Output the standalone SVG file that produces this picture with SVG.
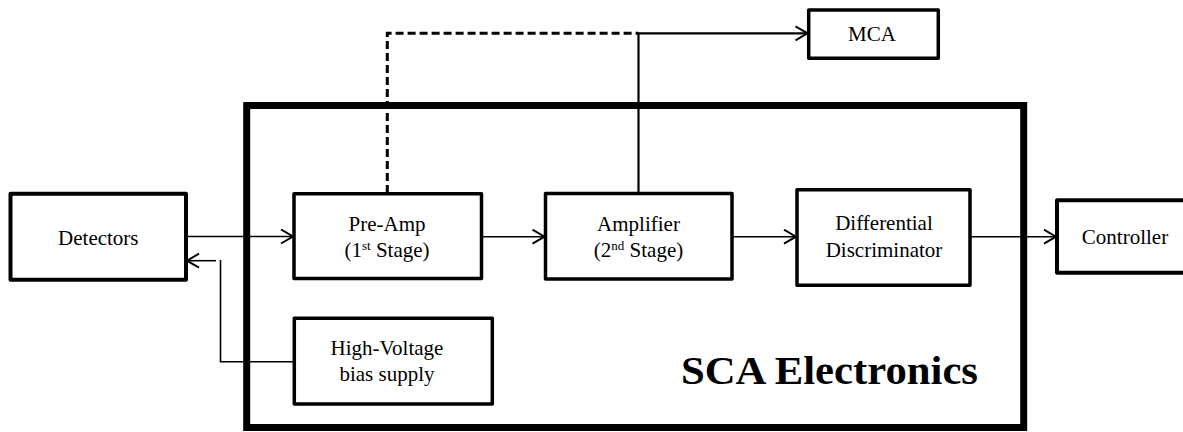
<svg xmlns="http://www.w3.org/2000/svg" width="1183" height="432" viewBox="0 0 1183 432">
<style>
  .box { fill: #fff; stroke: #000; stroke-width: 3.5; stroke-linejoin: round; }
  text { font-family: 'Liberation Serif', 'DejaVu Serif', serif; }
  .lbl { font-size: 21px; font-weight: normal; fill: #000; text-anchor: middle; }
  .sup { font-size: 13px; }
  .wire { fill: none; stroke: #000; stroke-width: 1.6; }
  .title { font-weight: bold; font-size: 40px; fill: #000; }
</style>
<defs>
  <marker id="arr" markerUnits="userSpaceOnUse" markerWidth="16" markerHeight="18" refX="13" refY="8" orient="auto">
    <path d="M1,1 L13,8 L1,15" fill="none" stroke="#000" stroke-width="2"/>
  </marker>
</defs>

<g id="sca-frame">
  <rect x="246.7" y="105.5" width="777" height="322" fill="none" stroke="#000" stroke-width="7"/>
  <text class="title" x="681" y="384" textLength="297" lengthAdjust="spacingAndGlyphs">SCA Electronics</text>
</g>

<g id="connectors">
  <line class="wire" x1="186" y1="236.5" x2="293" y2="236.5" marker-end="url(#arr)"/>
  <line class="wire" x1="483" y1="236.7" x2="544.5" y2="236.7" marker-end="url(#arr)"/>
  <line class="wire" x1="732" y1="236.7" x2="796" y2="236.7" marker-end="url(#arr)"/>
  <line class="wire" x1="970" y1="236.7" x2="1056" y2="236.7" marker-end="url(#arr)"/>
  <polyline class="wire" points="294,361.7 220.5,361.7 220.5,260"/>
  <line class="wire" x1="216" y1="260.7" x2="187" y2="260.7" marker-end="url(#arr)"/>
  <polyline fill="none" stroke="#000" stroke-width="2.2" points="638.5,193.5 638.5,33.3 807.5,33.3" marker-end="url(#arr)"/>
  <polyline fill="none" stroke="#000" stroke-width="3" stroke-dasharray="8,4" points="387.3,193 387.3,33.3 638.5,33.3"/>
</g>

<g id="detectors">
  <rect class="box" x="10.5" y="193.7" width="175.5" height="86" style="stroke-width:4"/>
  <text class="lbl" x="98.3" y="245">Detectors</text>
</g>

<g id="preamp">
  <rect class="box" x="294" y="193.7" width="187.5" height="84.8"/>
  <text class="lbl" x="387" y="230.7">Pre-Amp</text>
  <text class="lbl" x="387" y="257">(1<tspan class="sup" dy="-7">st</tspan><tspan dy="7"> Stage)</tspan></text>
</g>

<g id="amplifier">
  <rect class="box" x="545.5" y="193.5" width="186.5" height="85.5"/>
  <text class="lbl" x="638.5" y="230.7">Amplifier</text>
  <text class="lbl" x="638.5" y="257">(2<tspan class="sup" dy="-7">nd</tspan><tspan dy="7"> Stage)</tspan></text>
</g>

<g id="discriminator">
  <rect class="box" x="797" y="189.8" width="173" height="95.5"/>
  <text class="lbl" x="884" y="230">Differential</text>
  <text class="lbl" x="884" y="257">Discriminator</text>
</g>

<g id="controller">
  <rect class="box" x="1057" y="200.3" width="140" height="72.5" style="stroke-width:4"/>
  <text class="lbl" x="1125" y="244">Controller</text>
</g>

<g id="mca">
  <rect class="box" x="808.7" y="10" width="129.6" height="48.3"/>
  <text class="lbl" x="872" y="40.5">MCA</text>
</g>

<g id="hv-supply">
  <rect class="box" x="294.3" y="318.3" width="198" height="85.7"/>
  <text class="lbl" x="387" y="355">High-Voltage</text>
  <text class="lbl" x="387" y="381">bias supply</text>
</g>
</svg>
